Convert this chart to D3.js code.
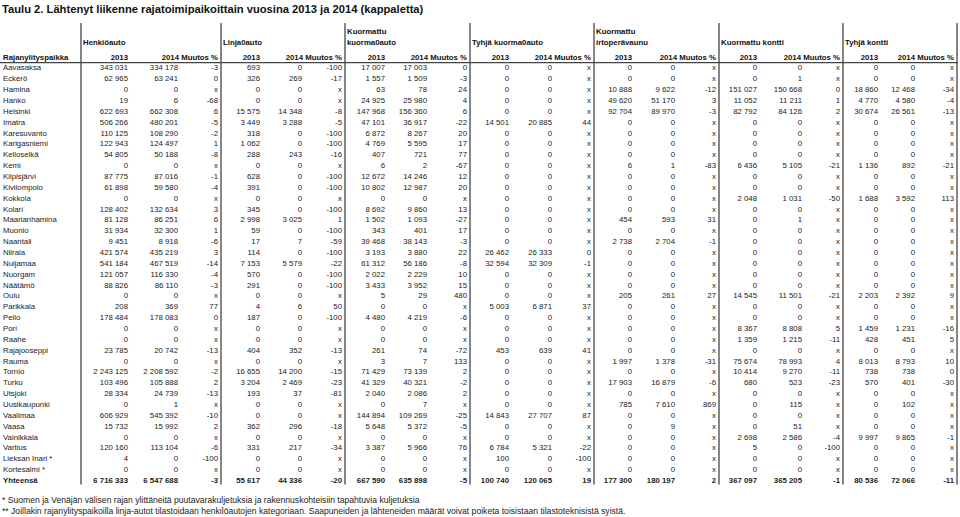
<!DOCTYPE html>
<html><head><meta charset="utf-8">
<script src="https://cdn.jsdelivr.net/npm/d3@7"></script>
<style>body{margin:0;background:#fff}svg{display:block}text{font-family:"Liberation Sans",Arial,sans-serif}</style>
</head><body><svg id="c" width="960" height="517"></svg>
<script>
const title = "Taulu 2. Lähtenyt liikenne rajatoimipaikoittain vuosina 2013 ja 2014 (kappaletta)";
const rowHeader = "Rajanylityspaikka";
const yearHeaders = ["2013", "2014 Muutos %"];
const groupLabels = [["Henkiöauto"], ["Linja0auto"], ["Kuormattu", "kuorma0auto"], ["Tyhjä kuorma0auto"],
  ["Kuormattu", "irtoperävaunu"], ["Kuormattu kontti"], ["Tyhjä kontti"]];
const places = ["Aavasaksa","Eckerö","Hamina","Hanko","Helsinki","Imatra","Karesuvanto","Karigasniemi","Kelloselkä","Kemi",
  "Kilpisjärvi","Kivilompolo","Kokkola","Kolari","Maarianhamina","Muonio","Naantali","Niirala","Nuijamaa","Nuorgam",
  "Näätämö","Oulu","Parikkala","Pello","Pori","Raahe","Rajajooseppi","Rauma","Tornio","Turku",
  "Utsjoki","Uusikaupunki","Vaalimaa","Vaasa","Vainikkala","Vartius","Lieksan Inari *","Kortesalmi *","Yhteensä"];
const x = "x";
const henkiloauto2013 = [343031,62965,0,19,622693,506266,110125,122943,54805,0,
  87775,61898,0,128402,81128,31934,9451,421574,541184,121057,
  88826,0,208,178484,0,0,23785,0,2243125,103496,
  28334,0,606929,15732,0,120160,4,0,6716333];
const henkiloauto2014 = [334178,63241,0,6,662308,480201,108290,124497,50188,0,
  87016,59580,0,132634,86251,32300,8918,435219,467519,116330,
  86110,0,369,178083,0,0,20742,0,2208592,105888,
  24739,1,545392,15992,0,113104,0,0,6547688];
const henkiloautoMuutos = [-3,0,x,-68,6,-5,-2,1,-8,x,
  -1,-4,x,3,6,1,-6,3,-14,-4,
  -3,x,77,0,x,x,-13,x,-2,2,
  -13,x,-10,2,x,-6,-100,x,-3];
const linja2013 = [693,326,0,0,15575,3449,318,1062,288,0,
  628,391,0,345,2998,59,17,114,7153,570,
  291,0,4,187,0,0,404,0,16655,3204,
  193,0,0,362,0,331,0,0,55617];
const linja2014 = [0,269,0,0,14348,3288,0,0,243,0,
  0,0,0,0,3025,0,7,0,5579,0,
  0,0,6,0,0,0,352,0,14200,2469,
  37,0,0,296,0,217,0,0,44336];
const linjaMuutos = [-100,-17,x,x,-8,-5,-100,-100,-16,x,
  -100,-100,x,-100,1,-100,-59,-100,-22,-100,
  -100,x,50,-100,x,x,-13,x,-15,-23,
  -81,x,x,-18,x,-34,x,x,-20];
const kuormattuKA2013 = [17007,1557,63,24925,147968,47101,6872,4769,407,6,
  12672,10802,0,8692,1502,343,39468,3193,61312,2022,
  3433,5,0,4480,0,0,261,3,71429,41329,
  2040,0,144894,5648,0,3387,0,0,667590];
const kuormattuKA2014 = [17003,1509,78,25980,156360,36917,8267,5595,721,2,
  14246,12987,0,9860,1093,401,38143,3880,56186,2229,
  3952,29,0,4219,0,0,74,7,73139,40321,
  2086,7,109269,5372,0,5966,0,0,635898];
const kuormattuKAMuutos = [0,-3,24,4,6,-22,20,17,77,-67,
  12,20,x,13,-27,17,-3,22,-8,10,
  15,480,x,-6,x,x,-72,133,2,-2,
  2,x,-25,-5,x,76,x,x,-5];
const tyhjaKA2013 = [0,0,0,0,0,14501,0,0,0,0,
  0,0,0,0,0,0,0,26462,32594,0,
  0,0,5003,0,0,0,453,0,0,0,
  0,0,14843,0,0,6784,100,0,100740];
const tyhjaKA2014 = [0,0,0,0,0,20885,0,0,0,0,
  0,0,0,0,0,0,0,26333,32309,0,
  0,0,6871,0,0,0,639,0,0,0,
  0,0,27707,0,0,5321,0,0,120065];
const tyhjaKAMuutos = [x,x,x,x,x,44,x,x,x,x,
  x,x,x,x,x,x,x,0,-1,x,
  x,x,37,x,x,x,41,x,x,x,
  x,x,87,x,x,-22,-100,x,19];
const irto2013 = [0,0,10888,49620,92704,0,0,0,0,6,
  0,0,0,0,454,0,2738,0,0,0,
  0,205,0,0,0,0,0,1997,0,17903,
  0,785,0,0,0,0,0,0,177300];
const irto2014 = [0,0,9622,51170,89970,0,0,0,0,1,
  0,0,0,0,593,0,2704,0,0,0,
  0,261,0,0,0,0,0,1378,0,16879,
  0,7610,0,9,0,0,0,0,180197];
const irtoMuutos = [x,x,-12,3,-3,x,x,x,x,-83,
  x,x,x,x,31,x,-1,x,x,x,
  x,27,x,x,x,x,x,-31,x,-6,
  x,869,x,x,x,x,x,x,2];
const kontti2013 = [0,0,151027,11052,82792,0,0,0,0,6436,
  0,0,2048,0,0,0,0,0,0,0,
  0,14545,0,0,8367,1359,0,75674,10414,680,
  0,0,0,0,2698,5,0,0,367097];
const kontti2014 = [0,1,150668,11211,84126,0,0,0,0,5105,
  0,0,1031,0,1,0,0,0,0,0,
  0,11501,0,0,8808,1215,0,78993,9270,523,
  0,115,0,51,2586,0,0,0,365205];
const konttiMuutos = [x,x,0,1,2,x,x,x,x,-21,
  x,x,-50,x,x,x,x,x,x,x,
  x,-21,x,x,5,-11,x,4,-11,-23,
  x,x,x,x,-4,-100,x,x,-1];
const tyhjaKontti2013 = [0,0,18860,4770,30674,0,0,0,0,1136,
  0,0,1688,0,0,0,0,0,0,0,
  0,2203,0,0,1459,428,0,8013,738,570,
  0,0,0,0,9997,0,0,0,80536];
const tyhjaKontti2014 = [0,0,12468,4580,26561,0,0,0,0,892,
  0,0,3592,0,0,0,0,0,0,0,
  0,2392,0,0,1231,451,0,8793,738,401,
  0,102,0,0,9865,0,0,0,72066];
const tyhjaKonttiMuutos = [x,x,-34,-4,-13,x,x,x,x,-21,
  x,x,113,x,x,x,x,x,x,x,
  x,9,x,x,-16,5,x,10,0,-30,
  x,x,x,x,-1,x,x,x,-11];
const footnotes = [
  "* Suomen ja Venäjän välisen rajan ylittäneitä puutavarakuljetuksia ja rakennuskohteisiin tapahtuvia kuljetuksia",
  "** Joillakin rajanylityspaikoilla linja-autot tilastoidaan henkilöautojen kategoriaan. Saapuneiden ja lähteneiden määrät voivat poiketa toisistaan tilastoteknisistä syistä."
];

// table built from the arrays
const groups = [
  [henkiloauto2013, henkiloauto2014, henkiloautoMuutos],
  [linja2013, linja2014, linjaMuutos],
  [kuormattuKA2013, kuormattuKA2014, kuormattuKAMuutos],
  [tyhjaKA2013, tyhjaKA2014, tyhjaKAMuutos],
  [irto2013, irto2014, irtoMuutos],
  [kontti2013, kontti2014, konttiMuutos],
  [tyhjaKontti2013, tyhjaKontti2014, tyhjaKonttiMuutos]
].map((s, i) => ({label: groupLabels[i], v13: s[0], v14: s[1], ch: s[2]}));

// layout
const bounds = [81, 221, 345, 470, 594, 719, 843, 957];
const col13 = [128, 260, 385, 509, 632, 757, 878];
const col14 = [178, 302, 427, 552, 675, 802, 915];
const FS = 7.8;
const txt = "#222";

const loc = d3.formatLocale({decimal: ",", thousands: " ", grouping: [3], currency: ["", ""], minus: "-"});
const fmt = loc.format(",d");
const fmtCh = v => v === x ? "x" : fmt(v);

const svg = d3.select("#c");
const y = d3.scalePoint().domain(places).range([70.4, 483]);
const gi = d3.range(groups.length);
const gx = d3.scaleOrdinal().domain(gi).range(bounds.slice(0, -1));
const gxr = d3.scaleOrdinal().domain(gi).range(bounds.slice(1));
const x13 = d3.scaleOrdinal().domain(gi).range(col13);
const x14 = d3.scaleOrdinal().domain(gi).range(col14);

svg.append("text").attr("x", 2).attr("y", 12.5).attr("font-size", 11.2).attr("font-weight", "bold")
  .attr("fill", "#111").text(title);

// vertical separators
svg.selectAll("line.v").data(bounds).join("line").attr("class", "v")
  .attr("x1", d => d).attr("x2", d => d).attr("y1", 23).attr("y2", 484.5)
  .attr("stroke", "#444").attr("stroke-width", 1.3);
// header rule
svg.append("line").attr("x1", 0).attr("x2", 958).attr("y1", 62.6).attr("y2", 62.6)
  .attr("stroke", "#444").attr("stroke-width", 1.3);

// headers
svg.append("text").attr("x", 3).attr("y", 60).attr("font-size", FS).attr("font-weight", "bold").attr("fill", "#111").text(rowHeader);
groups.forEach((g, i) => {
  const n = g.label.length;
  g.label.forEach((l, j) => {
    svg.append("text").attr("x", gx(i) + 2).attr("y", 45 - (n - 1 - j) * 11.5)
      .attr("font-size", FS).attr("font-weight", "bold").attr("fill", "#111").text(l);
  });
  svg.append("text").attr("x", x13(i)).attr("y", 60).attr("text-anchor", "end")
    .attr("font-size", FS).attr("font-weight", "bold").attr("fill", "#111").text(yearHeaders[0]);
  svg.append("text").attr("x", gxr(i) - 3).attr("y", 60).attr("text-anchor", "end")
    .attr("font-size", FS).attr("font-weight", "bold").attr("fill", "#111").text(yearHeaders[1]);
});

// body
const last = places[places.length - 1];
const rows = svg.selectAll("g.row").data(places).join("g").attr("class", "row")
  .attr("transform", d => `translate(0,${y(d)})`)
  .attr("font-size", FS).attr("fill", txt)
  .attr("font-weight", d => d === last ? "bold" : null);
rows.append("text").attr("x", 3).text(d => d);
groups.forEach((g, i) => {
  rows.append("text").attr("x", x13(i)).attr("text-anchor", "end").text((d, k) => fmt(g.v13[k]));
  rows.append("text").attr("x", x14(i)).attr("text-anchor", "end").text((d, k) => fmt(g.v14[k]));
  rows.append("text").attr("x", gxr(i) - 3).attr("text-anchor", "end").text((d, k) => fmtCh(g.ch[k]));
});

// footnotes
svg.selectAll("text.fn").data(footnotes).join("text").attr("class", "fn")
  .attr("x", 2).attr("y", (d, i) => 503 + i * 11).attr("font-size", 8.6).attr("fill", txt).text(d => d);
</script></body></html>
